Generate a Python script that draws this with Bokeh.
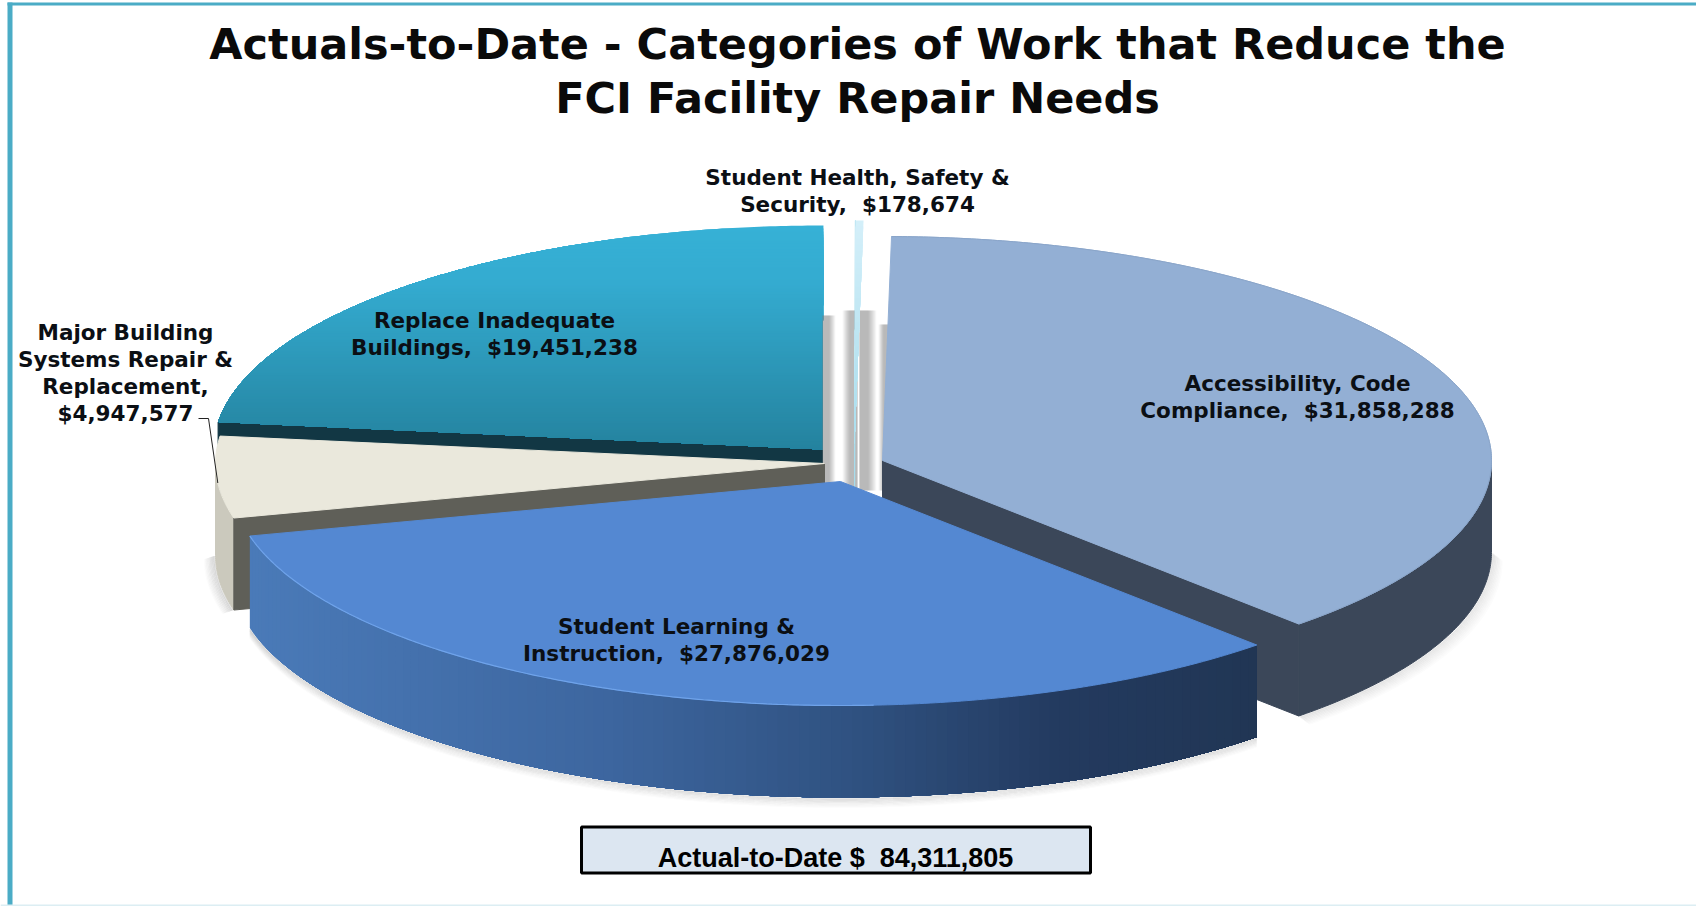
import numpy as np
from bokeh.plotting import figure
from bokeh.models import Range1d
from bokeh.core.properties import value
from bokeh.embed import file_html
from bokeh.resources import INLINE

# ---- data ----
categories = ["Accessibility, Code Compliance", "Student Learning & Instruction",
              "Major Building Systems Repair & Replacement", "Replace Inadequate Buildings",
              "Student Health, Safety & Security"]
amounts = [31858288, 27876029, 4947577, 19451238, 178674]
title_lines = ["Actuals-to-Date - Categories of Work that Reduce the", "FCI Facility Repair Needs"]
total_label = "Actual-to-Date $  84,311,805"
label_lines = [["Accessibility, Code", "Compliance,  $31,858,288"],
               ["Student Learning &", "Instruction,  $27,876,029"],
               ["Major Building", "Systems Repair &", "Replacement,", "$4,947,577"],
               ["Replace Inadequate", "Buildings,  $19,451,238"],
               ["Student Health, Safety &", "Security,  $178,674"]]

# ---- layout / style ----
W, H = 1696, 906
A, B, DEPTH = 609.0, 224.0, 92.0
START = 0.85
apex = [(882, 460), (840, 481), (824, 463), (822, 449), (854, 444)]
label_pos = [(1297, 383), (676, 626), (125, 332), (494, 320), (857, 177)]
label_step = 27
top_col = ["#93AFD4", "#5488D2", "#EAE8DC", None, "#C8E8F2"]
cut_col = ["#3B4759", "#2C4A78", "#5F5F58", "#123744", "#A8DCEC"]
side_col = ["#3B4759", None, "#CBC9BD", "#1F6C84", "#A8DCEC"]
FONT = "DejaVu Sans"

p = figure(width=W, height=H, output_backend="svg", toolbar_location=None,
           x_range=Range1d(0, W), y_range=Range1d(H, 0), min_border=0,
           background_fill_color="white", border_fill_color="white")
p.axis.visible = False
p.grid.visible = False
p.outline_line_color = None

fr = np.array(amounts) / sum(amounts) * 360.0
ends = START + np.cumsum(fr)
starts = ends - fr


def rim(i, t1, t2, dy=0.0, n=None):
    n = n or max(3, int(abs(t2 - t1) * 2))
    t = np.radians(np.linspace(t1, t2, n))
    return apex[i][0] + A * np.sin(t), apex[i][1] - B * np.cos(t) + dy


def poly(xs, ys, color, alpha=1.0, lw=1.0):
    p.patch(list(xs), list(ys), fill_color=color, fill_alpha=alpha,
            line_color=color if lw else None, line_width=lw or 1, line_alpha=alpha)


def top(i):
    x, y = rim(i, starts[i], ends[i])
    return np.r_[apex[i][0], x], np.r_[apex[i][1], y]


def outer_side(i, col):
    t1, t2 = max(starts[i], 90), min(ends[i], 270)
    if t1 >= t2:
        return
    x, y = rim(i, t1, t2)
    x2, y2 = rim(i, t1, t2, DEPTH)
    poly(np.r_[x, x2[::-1]], np.r_[y, y2[::-1]], col)


def cut_face(i, angle, col):
    x, y = rim(i, angle, angle, n=2)
    ax, ay = apex[i]
    poly([ax, x[0], x[0], ax], [ay, y[0], y[0] + DEPTH, ay + DEPTH], col)


def clip_below(xs, ys, lim):
    pts = list(zip(xs, ys))
    out = []
    for j in range(len(pts)):
        a, b = pts[j], pts[(j + 1) % len(pts)]
        ina, inb = a[1] >= lim, b[1] >= lim
        if ina:
            out.append(a)
        if ina != inb:
            f = (lim - a[1]) / (b[1] - a[1])
            out.append((a[0] + f * (b[0] - a[0]), lim))
    return [q[0] for q in out], [q[1] for q in out]


def lerp_hex(stops, f):
    pos = [s[0] for s in stops]
    cols = np.array([[int(s[1][k:k + 2], 16) for k in (1, 3, 5)] for s in stops], float)
    c = [np.interp(f, pos, cols[:, k]) for k in range(3)]
    return "#%02x%02x%02x" % tuple(int(round(v)) for v in c)


def soft_shadow(xs, ys, dx, dy, steps=8, strength=0.14):
    for k in range(1, steps + 1):
        p.line(list(np.array(xs) + dx * k), list(np.array(ys) + dy * k), line_color="#555555",
               line_alpha=strength * (1 - (k - 1) / steps), line_width=1.6)


def band_fill(xs, ys, stops, step=3.0):
    y_top, y_bot = min(ys), max(ys)
    for y0 in np.arange(y_top, y_bot, step):
        bx, by = clip_below(xs, ys, y0)
        if bx:
            poly(bx, by, lerp_hex(stops, (y0 - y_top) / (y_bot - y_top)), lw=0)


def txt(s):
    return s.replace("  ", " \u00a0")


# chart frame
p.quad(left=[7], right=[12], top=[2], bottom=[H], fill_color="#4BACC6", line_color=None)
p.quad(left=[7], right=[W], top=[2], bottom=[5], fill_color="#4BACC6", line_color=None)
p.quad(left=[0], right=[W], top=[H - 2], bottom=[H], fill_color="#DCEEF3", line_color=None)

# Replace Inadequate Buildings (index 3)
i = 3
outer_side(i, side_col[i])
cut_face(i, starts[i], cut_col[i])
band_fill(*top(i), [(0, "#36B1D6"), (0.25, "#34ABD0"), (1, "#24829E")])

# soft vertical shadows seen through the gaps between the slices
for x0, x1, plateau_side, y0 in [(822, 835, "left", 315), (842, 857, "right", 310),
                                 (859, 876, "left", 310), (878, 888, "right", 324)]:
    n = x1 - x0
    for k in range(n):
        f = (k + 0.5) / n
        f = f if plateau_side == "right" else 1 - f
        a = 0.62 * min(1.0, f * 2.0)
        p.quad(left=[x0 + k], right=[x0 + k + 1], top=[y0], bottom=[490],
               fill_color="#7A7A7A", fill_alpha=a, line_color=None)

# Student Health, Safety & Security (index 4)
i = 4
cut_face(i, starts[i], cut_col[i])
band_fill(*top(i), [(0, "#D3EFF9"), (1, "#A8DCEC")], step=6.0)

# Accessibility (index 0)
i = 0
x, y = rim(i, 90, ends[i], DEPTH)
soft_shadow(x, y, 1.3, 1.0)
outer_side(i, side_col[i])
cut_face(i, ends[i], cut_col[i])
poly(*top(i), top_col[i])
x, y = rim(i, starts[i], ends[i])
p.line(list(x), list(y), line_color="#8AA5C9", line_width=1)

# Major Building Systems (index 2)
i = 2
x, y = rim(i, starts[i], 270, DEPTH)
soft_shadow(x, y, -1.2, 0.4, steps=9, strength=0.18)
outer_side(i, side_col[i])
cut_face(i, starts[i], cut_col[i])
poly(*top(i), top_col[i])

# Student Learning & Instruction (index 1)
i = 1
x, y = rim(i, starts[i], ends[i], DEPTH)
soft_shadow(x, y, 0, 1.2)
grid = np.linspace(ends[i], starts[i], 120)
side_stops = [(0, "#4A7AB8"), (0.35, "#3D669F"), (0.6, "#2F5180"), (0.8, "#233A5F"), (1, "#213654")]
x_lo = apex[i][0] + A * np.sin(np.radians(ends[i]))
x_hi = apex[i][0] + A * np.sin(np.radians(starts[i]))
for t in grid[:-1]:
    xa, ya = rim(i, t, starts[i])
    xb, yb = rim(i, t, starts[i], DEPTH)
    f = (xa[0] - x_lo) / (x_hi - x_lo)
    poly(np.r_[xa, xb[::-1]], np.r_[ya, yb[::-1]], lerp_hex(side_stops, f), lw=0)
poly(*top(i), top_col[i])
x, y = rim(i, starts[i] + 40, ends[i])
p.line(list(x), list(y), line_color="#6FA3EA", line_width=1.2)

# leader line for the Major Building label
lx, ly = rim(2, 265, 265, n=2)
p.line([198, 208, float(lx[0])], [418, 418, float(ly[0])], line_color="#222222", line_width=1)

# slice labels
for lines, (cx, cy) in zip(label_lines, label_pos):
    for n, s in enumerate(lines):
        p.text([cx], [cy + n * label_step], text=[txt(s)], text_font=value(FONT), text_font_style="bold",
               text_font_size="21.5px", text_align="center", text_baseline="middle",
               text_color="#0B0F14")

# title
for n, s in enumerate(title_lines):
    p.text([857], [43 + n * 54], text=[s], text_font=value(FONT), text_font_style="bold",
           text_font_size="43px", text_align="center", text_baseline="middle", text_color="#0A0A0A")

# total box
p.quad(left=[581], right=[1090], top=[826.5], bottom=[872.5], fill_color="#DCE6F1",
       line_color="#000000", line_width=3)
p.text([835], [857], text=[txt(total_label)], text_font=value("Liberation Sans"), text_font_style="bold",
       text_font_size="27px", text_align="center", text_baseline="middle", text_color="#000000")

open("out.html", "w").write(file_html(p, INLINE))
